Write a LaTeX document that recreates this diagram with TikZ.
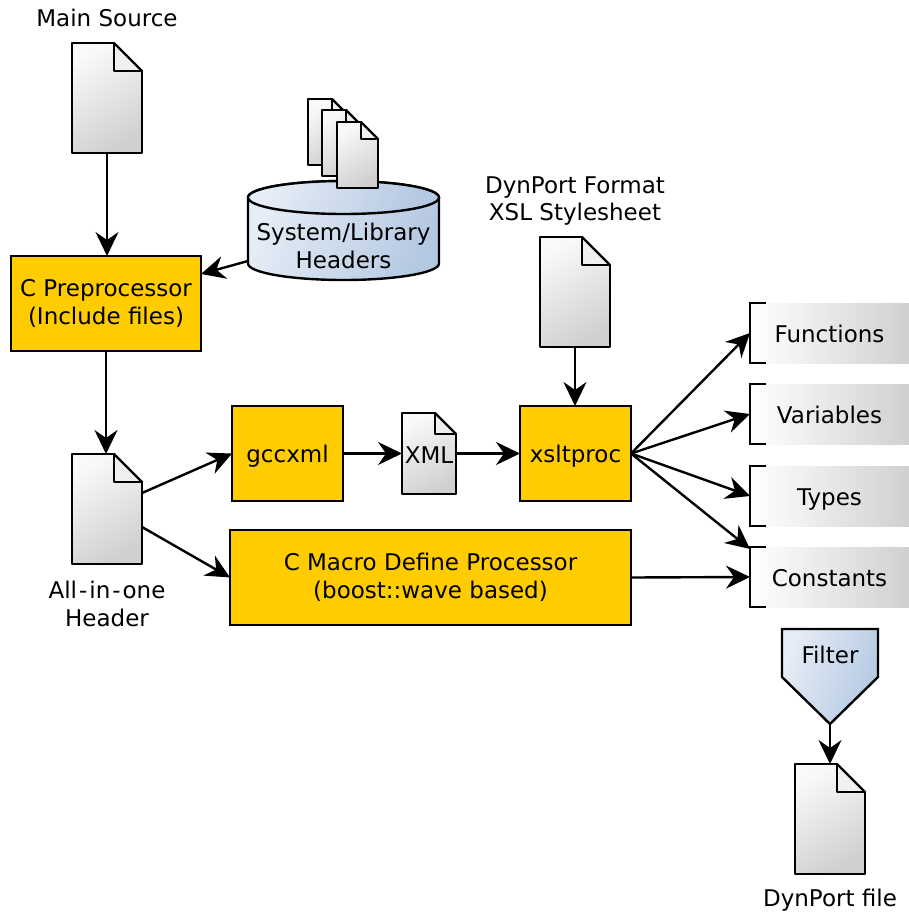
\documentclass[tikz,border=0pt]{standalone}
\usepackage{fontspec}
\setmainfont{DejaVu Sans}
\usetikzlibrary{arrows.meta,calc}
\definecolor{boxorange}{HTML}{FFCC00}
\definecolor{docA}{HTML}{F9F9F9}
\definecolor{docB}{HTML}{D0D0D0}
\definecolor{docFold}{HTML}{F0F0F0}
\definecolor{blueA}{HTML}{E6EDF6}
\definecolor{blueB}{HTML}{B4C8E2}
\tikzset{
  lbl/.style={font=\fontsize{23}{27.5}\selectfont,align=center,inner sep=0pt,text=black},
  oneline/.style={text height=22pt,text depth=4pt},
  procbox/.style={lbl,draw=black,line width=2.4pt,fill=boxorange,anchor=north west,outer sep=0pt},
  anchorbox/.style={inner sep=0pt,outer sep=0pt,anchor=north west},
  docfill/.style={draw=black,line width=2.4pt,line join=miter,top color=docA,bottom color=docB,shading angle=30},
  foldfill/.style={fill=docFold},
  foldline/.style={draw=black,line width=2.4pt,line join=miter},
  bluefill/.style={draw=black,line width=2.4pt,line join=miter,left color=blueA,right color=blueB,shading angle=70},
  storebox/.style={lbl,oneline,anchor=north west,outer sep=0pt,minimum width=159pt,minimum height=60pt,left color=white,right color=docB},
  bracket/.style={draw=black,line width=2.4pt},
  conn/.style={draw=black,line width=2.4pt,-{Stealth[length=24pt,width=23pt,inset=8pt]}},
}
\newcommand{\docshape}[6]{%
  \node[anchorbox,minimum width=#4pt,minimum height=#5pt] (#1) at (#2,#3) {};
  \path[foldfill] ([xshift=-#6pt]#1.north east) -- ([xshift=-#6pt,yshift=-#6pt]#1.north east) -- ([yshift=-#6pt]#1.north east) -- cycle;
  \path[docfill,line join=bevel] (#1.north west) -- ([xshift=-#6pt]#1.north east) -- ([xshift=-#6pt,yshift=-#6pt]#1.north east) -- ([yshift=-#6pt]#1.north east) -- (#1.south east) -- (#1.south west) -- cycle;
  \path[foldline,line join=bevel,line cap=round] ([xshift=-#6pt]#1.north east) -- ([yshift=-#6pt]#1.north east);
}
\newcommand{\storeshape}[4]{%
  \node[storebox] (#1) at (#2,#3) {#4};
  \draw[bracket] ([xshift=16pt]#1.north west) -- (#1.north west) -- (#1.south west) -- ([xshift=16pt]#1.south west);
}
\begin{document}
\begin{tikzpicture}[x=1pt,y=-1pt]
\useasboundingbox (0,0) rectangle (909,916);

% documents
\docshape{mainsrc}{72}{43}{70}{110}{28}
\docshape{allinone}{72}{454}{70}{110}{28}
\docshape{xsl}{540}{237}{70}{110}{28}
\docshape{dynfile}{795}{764}{70}{110}{28}
\docshape{xml}{402}{413}{54}{81}{21}

% labels of documents
\node[lbl] (mainlbl) at (107,18) {Main Source};
\node[lbl] (xsllbl) at (575,201) {DynPort Format\\XSL Stylesheet};
\node[lbl] (alllbl) at (107,604) {All\kern2pt-\kern2pt in\kern2pt-\kern2pt one\\Header};
\node[lbl] (dynlbl) at (830,900) {DynPort file};
\node[lbl] (xmllbl) at (429,455) {XML};

% cylinder
\node[anchorbox,minimum width=191pt,minimum height=99pt] (sys) at (248,181) {};
\path[bluefill] ([yshift=-16.5pt]sys.north west) -- ([yshift=16.5pt]sys.south west)
  arc[start angle=180,end angle=360,x radius=95.5pt,y radius=16.5pt]
  -- ([yshift=-16.5pt]sys.north east)
  arc[start angle=0,end angle=180,x radius=95.5pt,y radius=16.5pt] -- cycle;
\path[bluefill] ([yshift=-16.5pt]sys.north west)
  arc[start angle=180,end angle=360,x radius=95.5pt,y radius=16.5pt]
  arc[start angle=0,end angle=180,x radius=95.5pt,y radius=16.5pt] -- cycle;
\node[lbl] (syslbl) at (343.5,246) {System/Library\\Headers};

% stacked headers
\docshape{hdrA}{308}{99}{41}{66}{17}
\docshape{hdrB}{322}{110}{41}{66}{17}
\docshape{hdrC}{337}{122}{41}{66}{17}

% process boxes
\node[procbox,minimum width=190pt,minimum height=95pt] (cpp) at (11,256) {\raisebox{-1.5pt}{C Preprocessor}\\\raisebox{-1.5pt}{(Include files)}};
\node[procbox,oneline,minimum width=111pt,minimum height=95pt] (gcc) at (232,406) {gccxml};
\node[procbox,oneline,minimum width=111pt,minimum height=95pt] (xslt) at (520,406) {xsltproc};
\node[procbox,minimum width=401pt,minimum height=95pt] (macro) at (230,530) {\raisebox{-1.5pt}{C Macro Define Processor}\\\raisebox{-1.5pt}{(boost::wave based)}};

% data stores
\storeshape{funcs}{750}{303}{Functions}
\storeshape{vars}{750}{384}{Variables}
\storeshape{types}{750}{466}{Types}
\storeshape{consts}{750}{547}{Constants}

% filter
\node[anchorbox,minimum width=96pt,minimum height=95pt] (filter) at (782,629) {};
\path[bluefill] (filter.north west) -- (filter.north east) -- ([yshift=47pt]filter.south east) -- (filter.south) -- ([yshift=47pt]filter.south west) -- cycle;
\node[lbl] (filterlbl) at (830,655) {Filter};

% connectors
\draw[conn] (mainsrc.south) -- (mainsrc.south |- cpp.north);
\draw[conn] ([yshift=-80pt]sys.north west) -- ([yshift=-18pt]cpp.north east);
\draw[conn] (cpp.south) -- (cpp.south |- allinone.north);
\draw[conn] ([yshift=16pt]allinone.east) -- (gcc.west);
\draw[conn] ([yshift=-18pt]allinone.east) -- (macro.west);
\draw[conn] (gcc.east) -- (xml.west |- gcc.east);
\draw[conn] (xml.east |- xslt.west) -- (xslt.west);
\draw[conn] (xsl.south) -- (xsl.south |- xslt.north);
\draw[conn] (xslt.east) -- (funcs.west);
\draw[conn] (xslt.east) -- (vars.west);
\draw[conn] (xslt.east) -- (types.west);
\draw[conn] (xslt.east) -- ([yshift=-2pt]consts.north west);
\draw[conn] (macro.east) -- (consts.west);
\draw[conn] (filter.south) -- (dynfile.north -| filter.south);
\end{tikzpicture}
\end{document}
